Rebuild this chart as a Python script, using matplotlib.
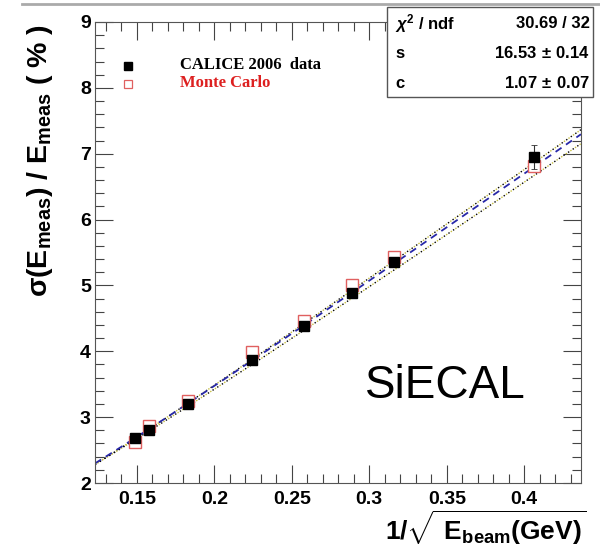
import numpy as np
import matplotlib
matplotlib.use("Agg")
import matplotlib.pyplot as plt
from matplotlib.ticker import MultipleLocator
from matplotlib.lines import Line2D

plt.rcParams['font.family'] = ['Liberation Sans', 'DejaVu Sans']
plt.rcParams['mathtext.fontset'] = 'custom'
plt.rcParams['mathtext.rm'] = 'Liberation Sans:bold'
plt.rcParams['mathtext.bf'] = 'Liberation Sans:bold'
plt.rcParams['mathtext.it'] = 'Liberation Sans:italic:bold'
plt.rcParams['mathtext.sf'] = 'Liberation Sans:bold'

# ---- data ----
x_inv_sqrt_e = [0.149, 0.158, 0.183, 0.224, 0.258, 0.289, 0.316, 0.406]
data_res = [2.68, 2.81, 3.20, 3.87, 4.38, 4.88, 5.36, 6.95]
data_err = [0.04, 0.04, 0.04, 0.05, 0.05, 0.06, 0.07, 0.18]
mc_res = [2.62, 2.86, 3.25, 3.99, 4.46, 5.00, 5.43, 6.82]

# fit parameters (stochastic s, constant c) -- central, upper, lower
fit_s = [16.53, 16.72, 16.18]
fit_c = [1.07, 0.98, 1.12]

stats_labels = [r'$\chi^{2}$ / ndf', 's', 'c']
stats_values = ['30.69 / 32', r'16.53$\,\pm\,$0.14', r'1.07$\,\pm\,$0.07']

xticks = [0.15, 0.2, 0.25, 0.3, 0.35, 0.4]
xtick_labels = ['0.15', '0.2', '0.25', '0.3', '0.35', '0.4']
yticks = [2, 3, 4, 5, 6, 7, 8, 9]

fig = plt.figure(figsize=(6, 5.5), dpi=100)
ax = fig.add_axes([95/600, 1-483/550, (581-95)/600, (483-22)/550])
ax.set_xlim(0.123, 0.4366)
ax.set_ylim(2, 9)

# fit curves
xf = np.linspace(0.123, 0.4366, 300)
def fitcurve(s, c):
    return np.sqrt((s * xf) ** 2 + c ** 2)

ax.plot(xf, fitcurve(fit_s[1], fit_c[1]), color='black', lw=1.0, ls=(0, (1, 3)))
ax.plot(xf, fitcurve(fit_s[1], fit_c[1]), color='#c8c040', lw=1.0, ls=(2, (1, 3)))
ax.plot(xf, fitcurve(fit_s[2], fit_c[2]), color='black', lw=1.0, ls=(0, (1, 3)))
ax.plot(xf, fitcurve(fit_s[2], fit_c[2]), color='#c8c040', lw=1.0, ls=(2, (1, 3)))
ax.plot(xf, fitcurve(fit_s[0], fit_c[0]), color='#2828a8', lw=1.3, ls=(0, (4, 3)))

ax.errorbar(x_inv_sqrt_e, data_res, yerr=data_err, fmt='none', ecolor='#333333',
            elinewidth=0.8, capsize=2, capthick=0.6, zorder=4)
ax.plot(x_inv_sqrt_e, mc_res, ls='none', marker='s', ms=8, mfc='white',
        mec='#e06060', mew=1.0, zorder=3)
ax.plot(x_inv_sqrt_e, data_res, ls='none', marker='s', ms=7.5, mfc='black',
        mec='black', zorder=5)

ax.set_xticks(xticks)
ax.set_xticklabels(xtick_labels)
ax.set_yticks(yticks)
ax.xaxis.set_minor_locator(MultipleLocator(0.01))
ax.yaxis.set_minor_locator(MultipleLocator(0.2))
ax.tick_params(which='both', direction='in', top=True, right=True, color='#444444', width=0.8)
ax.tick_params(which='major', length=13, labelsize=14)
ax.tick_params(axis='x', which='major', pad=6)
ax.tick_params(axis='y', which='major', pad=3)
ax.tick_params(which='minor', length=6.5)
for lab in ax.get_xticklabels() + ax.get_yticklabels():
    lab.set_fontweight('bold')
for sp in ax.spines.values():
    sp.set_color('#555555')
    sp.set_linewidth(0.8)

# legend
ax.plot([0.144], [8.33], marker='s', ms=6, mfc='black', mec='black', ls='none', clip_on=False)
fig.text(180/600, 1-65/550, 'CALICE 2006  data', family='Liberation Serif', weight='bold',
         fontsize=12, color='black', va='center', ha='left')
ax.plot([0.144], [8.06], marker='s', ms=6, mfc='white', mec='#e06060', mew=0.9, ls='none', clip_on=False)
fig.text(180/600, 1-83/550, 'Monte Carlo', family='Liberation Serif', weight='bold',
         fontsize=12, color='#dd2020', va='center', ha='left')

ax.text(0.297, 3.47, 'SiECAL', fontsize=33, color='black', ha='left', va='center')

# stats box
box = plt.Rectangle((387/600, 1-97/550), (593-387)/600, (97-7)/550, transform=fig.transFigure,
                    facecolor='white', edgecolor='#555555', lw=1.0, zorder=10)
fig.add_artist(box)
row_y = [24, 53, 83]
for lab, val, yy in zip(stats_labels, stats_values, row_y):
    fig.text(395/600, 1-yy/550, lab, fontsize=12, weight='bold', ha='left', va='center', zorder=11)
    fig.text(590/600, 1-yy/550, val, fontsize=12, weight='bold', ha='right', va='center', zorder=11)

# top grey border line
fig.add_artist(Line2D([22/600, 1], [1-4/550, 1-4/550], transform=fig.transFigure,
                      color='#aaaaaa', lw=2))

# axis labels
fig.text(40/600, 1-24/550, r'σ(E$_{\mathbf{meas}}$) / E$_{\mathbf{meas}}$ ( % )',
         rotation=90, fontsize=20.5, weight='bold', ha='center', va='top')
fig.text(586/600, 1-528/550, r'$1/\sqrt{\ \mathbf{E}_{\mathbf{beam}}\mathbf{(GeV)}}$',
         fontsize=19, ha='right', va='center')

fig.savefig('out.png', dpi=100)
